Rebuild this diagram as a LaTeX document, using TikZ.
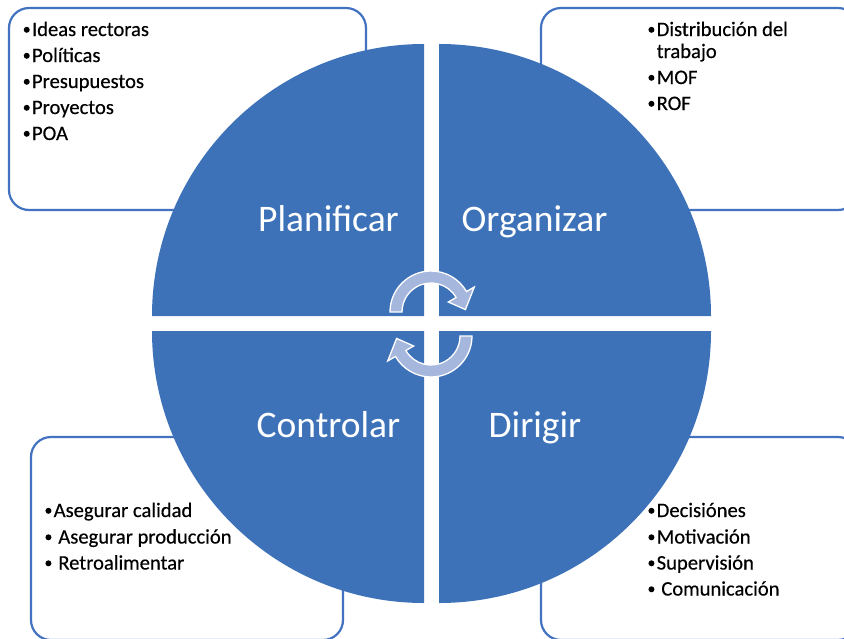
\documentclass[tikz,border=0pt]{standalone}
\usepackage{fontspec}
\setmainfont{Carlito}
\newfontfamily\itemfont{Carlito}[FakeBold=0.4]
\definecolor{qblue}{RGB}{61,114,184}
\definecolor{bblue}{RGB}{66,114,192}
\definecolor{arrowfill}{RGB}{166,183,221}
\newcommand{\bul}{\makebox[10.5pt][c]{\tikz[baseline=0pt,x=1pt,y=1pt]\fill[black] (0,6.2) circle[radius=3];}}
\tikzset{
  infobox/.style={draw=bblue, line width=2.2pt, fill=white, rounded corners=20pt},
  quad/.style={fill=qblue},
  biglabel/.style={anchor=base, text=white, font=\fontsize{37.5}{40}\selectfont, inner sep=0pt},
  item/.style={anchor=base west, text=black, font=\itemfont\fontsize{20.6}{24}\selectfont, inner sep=0pt},
  cyc/.style={fill=arrowfill, draw=white, line width=1.3pt, line join=miter}
}
\begin{document}
\begin{tikzpicture}[x=1pt,y=-1pt]
\useasboundingbox (0,0) rectangle (844,638);
\clip (0,0) rectangle (844,638);
% text boxes
\draw[infobox] (9,8) rectangle (366,210);
\draw[infobox] (541,8) rectangle (858,210);
\draw[infobox] (31,437) rectangle (343,640);
\draw[infobox] (541,437) rectangle (858,640);
% quadrants
\fill[quad] (424,316) -- (152,316) arc[start angle=180, end angle=270, radius=272] -- cycle;
\fill[quad] (439,316) -- (439,44) arc[start angle=270, end angle=360, radius=272] -- cycle;
\fill[quad] (424,331) -- (152,331) arc[start angle=180, end angle=90, radius=272] -- cycle;
\fill[quad] (439,331) -- (711,331) arc[start angle=0, end angle=90, radius=272] -- cycle;
% labels
\node[biglabel] (plan) at (328.5,231) {Planificar};
\node[biglabel] (org) at (534.5,231) {Organizar};
\node[biglabel] (ctrl) at (328.5,437) {Controlar};
\node[biglabel] (dir) at (535,437) {Dirigir};
% cycle arrows
\begin{scope}[shift={(431,312)}, yscale=-1]
\filldraw[cyc] (180:41) arc[start angle=180, end angle=30, radius=41] -- (30:50) -- (4:34.5) -- (30:20) -- (30:29) arc[start angle=30, end angle=180, radius=29] -- cycle;
\end{scope}
\begin{scope}[shift={(431,336)}, yscale=-1, rotate=180]
\filldraw[cyc] (180:41) arc[start angle=180, end angle=30, radius=41] -- (30:50) -- (4:34.5) -- (30:20) -- (30:29) arc[start angle=30, end angle=180, radius=29] -- cycle;
\end{scope}
% top-left items
\node[item] (tl1) at (21.3,36) {\bul Ideas rectoras};
\node[item] (tl2) at (21.3,62) {\bul Políticas};
\node[item] (tl3) at (21.3,88) {\bul Presupuestos};
\node[item] (tl4) at (21.3,114) {\bul Proyectos};
\node[item] (tl5) at (21.3,140) {\bul POA};
% top-right items
\node[item] (tr1) at (646,36) {\bul Distribución del};
\node[item] (tr1b) at (656.5,58) {trabajo};
\node[item] (tr2) at (646,84) {\bul MOF};
\node[item] (tr3) at (646,110) {\bul ROF};
% bottom-left items
\node[item] (bl1) at (43,517) {\bul Asegurar calidad};
\node[item] (bl2) at (43,543.5) {\bul\ Asegurar producción};
\node[item] (bl3) at (43,569.5) {\bul\ Retroalimentar};
% bottom-right items
\node[item] (br1) at (646,517) {\bul Decisiónes};
\node[item] (br2) at (646,543.5) {\bul Motivación};
\node[item] (br3) at (646,569.5) {\bul Supervisión};
\node[item] (br4) at (646,595.5) {\bul\ Comunicación};
\end{tikzpicture}
\end{document}
